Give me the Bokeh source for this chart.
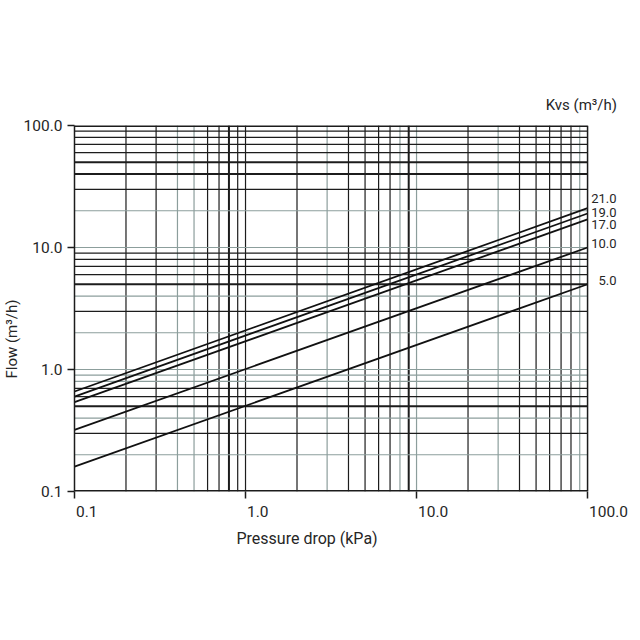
import math
from bokeh.plotting import figure
from bokeh.models import Span, Range1d, FixedTicker, LogAxis, Title, Label
from bokeh.embed import file_html
from bokeh.resources import INLINE

# ---- data ----
kvs_labels = ["21.0", "19.0", "17.0", "10.0", "5.0"]
dp_ends = [0.1, 100.0]
flow_at_start = [0.66, 0.60, 0.54, 0.32, 0.16]
flow_at_end = [21.0, 19.0, 17.0, 10.0, 5.0]

x_ticks = [0.1, 1.0, 10.0, 100.0]
x_tick_labels = ["0.1", "1.0", "10.0", "100.0"]
y_ticks = [0.1, 1.0, 10.0, 100.0]
y_tick_labels = ["0.1", "1.0", "10.0", "100.0"]

x_grid_dark = [0.2, 0.3, 0.6, 0.7, 0.9, 1.0, 2, 4, 5, 6, 7, 20, 40, 50, 60, 70, 80]
x_grid_thick = [0.8, 9]
x_grid_gray = [0.4, 0.5, 3, 8, 10, 30, 90]
y_grid_dark = [0.3, 0.6, 0.7, 3, 6, 7, 8, 9, 30, 60, 70, 80, 90]
y_grid_thick = [0.5, 5, 40, 50]
y_grid_gray = [0.2, 0.4, 0.8, 0.9, 1, 2, 4, 10, 20]

x_min, x_max = 0.1, 100.0
y_min, y_max = 0.1, 100.0

DARK = "#1c1c1c"
GRAY = "#8c9e9c"
TXT = "#262626"
FONT = "Roboto"
TICK_FS = 15.5

# layout (px): plotting area 0.1..100 is 514 x 366; the frame is extended to the
# right so that the curve names and the last tick label have room
FL, FT, FB = 73, 125, 141
DEC = 514 / 3.0                 # px per decade on x
FW = 547                        # frame width incl. label strip
FR = 12
FH = 366
W, H = FL + FW + FR, FT + FH + FB
x_end = 10 ** (math.log10(x_min) + FW / DEC)

p = figure(width=W, height=H, x_axis_type="log", y_axis_type="log",
           x_range=Range1d(x_min, x_end), y_range=Range1d(y_min, y_max),
           output_backend="svg", toolbar_location=None, title=None,
           min_border_left=FL, min_border_right=FR,
           min_border_top=FT, min_border_bottom=FB)
p.xgrid.visible = False
p.ygrid.visible = False
p.outline_line_color = None
p.background_fill_color = "white"
p.border_fill_color = "white"

def style_axis(ax):
    ax.major_tick_in = 0
    ax.major_tick_out = 7
    ax.minor_tick_in = 0
    ax.minor_tick_out = 0
    ax.major_tick_line_color = DARK
    ax.major_tick_line_width = 1.5
    ax.axis_line_color = DARK
    ax.axis_line_width = 1.5
    ax.major_label_text_font = FONT
    ax.major_label_text_font_size = f"{TICK_FS}px"
    ax.major_label_text_color = TXT

xa = p.xaxis[0]
ya = p.yaxis[0]
style_axis(xa)
style_axis(ya)
ya.ticker = FixedTicker(ticks=y_ticks, minor_ticks=[])
ya.major_label_overrides = {t: l for t, l in zip(y_ticks, y_tick_labels)}
ya.major_label_standoff = 5
# main x axis: tick marks only (its line is drawn as the chart border)
xa.ticker = FixedTicker(ticks=x_ticks, minor_ticks=[])
xa.major_label_overrides = {t: "" for t in x_ticks}
xa.major_label_text_font_size = "0px"
xa.major_label_standoff = 0
xa.axis_line_color = None

# second x axis carrying the tick labels, each label starting at its tick
def text_w(s, fs):
    return sum(0.263 * fs if c == "." else 0.562 * fs for c in s)
shifted = [t * 10 ** ((1.5 + text_w(l, TICK_FS) / 2) / DEC) for t, l in zip(x_ticks, x_tick_labels)]
xa2 = LogAxis(ticker=FixedTicker(ticks=shifted, minor_ticks=[]),
              major_label_overrides={s: l for s, l in zip(shifted, x_tick_labels)})
style_axis(xa2)
xa2.major_tick_out = 0
xa2.axis_line_color = None
xa2.major_label_standoff = 7
p.add_layout(xa2, "below")

# grid
for vals, col, lw in ((x_grid_gray, GRAY, 1.2), (x_grid_dark, DARK, 1.2), (x_grid_thick, DARK, 2.0)):
    for v in vals:
        p.add_layout(Span(location=v, dimension="height", line_color=col, line_width=lw, level="underlay"))
for vals, col, lw in ((y_grid_gray, GRAY, 1.2), (y_grid_dark, DARK, 1.2), (y_grid_thick, DARK, 2.0)):
    p.segment(x0=[x_min] * len(vals), x1=[x_max] * len(vals), y0=vals, y1=vals,
              line_color=col, line_width=lw)

# Kvs curves
p.multi_line(xs=[dp_ends] * len(flow_at_end),
             ys=[[a, b] for a, b in zip(flow_at_start, flow_at_end)],
             line_color="#111111", line_width=1.8)

# chart border (bottom/top lie on the frame edge, so half of the width shows)
p.segment(x0=[x_min, x_min], x1=[x_max, x_max], y0=[y_min, y_max], y1=[y_min, y_max],
          line_color=DARK, line_width=3)
p.segment(x0=[x_max], x1=[x_max], y0=[y_min], y1=[y_max], line_color=DARK, line_width=1.5)

# curve names, right aligned in the strip right of the chart
def page_to_y(py):
    return 10 ** (math.log10(y_max) - (py - FT) / (FH / 3.0))
label_py = [198, 211.5, 224, 243, 280]
for txt, py in zip(kvs_labels, label_py):
    p.add_layout(Label(x=615 - FL, y=page_to_y(py), x_units="screen", y_units="data",
                       text=txt, text_align="right", text_baseline="middle",
                       text_font=FONT, text_font_size="13px", text_color=TXT))

def title(text, side, align, offset, standoff, size, line_height=1.2):
    t = Title(text=text, align=align, offset=offset, standoff=standoff,
              text_font=FONT, text_font_size=size, text_font_style="normal",
              text_color=TXT, text_line_height=line_height)
    p.add_layout(t, side)

title("Kvs (m³/h)", "above", "right", (FL + FW) - 616.5, 24, "15px")
title("Pressure drop (kPa)", "below", "left", 162, 14, "16px")
title("Flow (m³/h)", "left", "left", 113, 0, "15px", line_height=0.6)

open("out.html", "w").write(file_html(p, INLINE))
